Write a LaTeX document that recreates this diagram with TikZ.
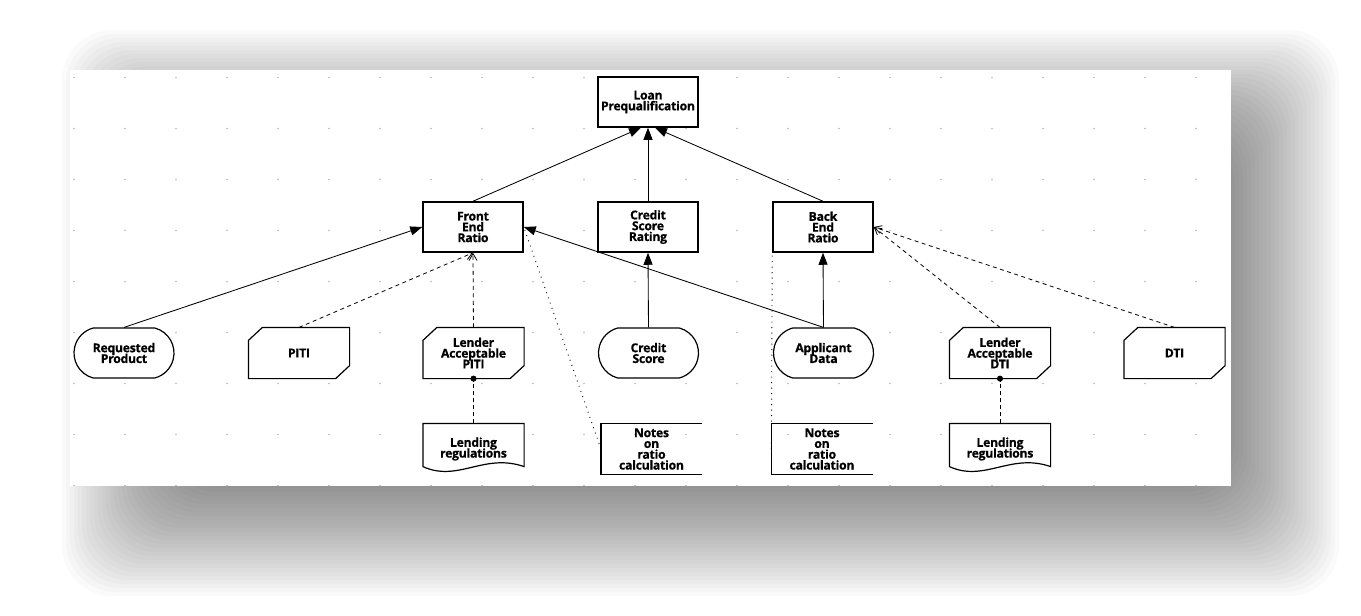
\documentclass[tikz,border=0pt]{standalone}
\usepackage{fontspec}
\newfontfamily\lblfont{Open Sans}[LetterSpace=-2,BoldFeatures={FakeBold=0.6}]
\usetikzlibrary{shapes.misc,arrows.meta,calc}
\pgfdeclarelayer{bg}
\pgfsetlayers{bg,main}
\definecolor{griddot}{gray}{0.72}
\begin{document}
\begin{tikzpicture}[x=1pt,y=-1pt,
  lbl/.style={align=center, inner sep=0pt,
    font={\lblfont\bfseries\fontsize{12.2}{10.8}\selectfont\lineskiplimit=-50pt\relax}},
  procbox/.style={lbl, rectangle, draw, line width=1.5pt, fill=white,
    minimum width=100pt, minimum height=50pt},
  stadium/.style={lbl, rounded rectangle, rounded rectangle arc length=150,
    draw, line width=1.2pt, fill=white, minimum width=100pt, minimum height=50pt},
  plainbox/.style={lbl, rectangle, outer sep=0.6pt,
    minimum width=100pt, minimum height=50pt},
  outline/.style={line width=1.2pt, line join=miter},
  flow/.style={line width=0.85pt, -{Triangle[length=12pt,width=9pt]}},
  dep/.style={line width=0.8pt, dash pattern=on 4pt off 3.5pt,
    -{Straight Barb[length=7pt,width=8pt]}},
  assoc/.style={line width=0.9pt, dash pattern=on 4pt off 3pt,
    -{Circle[length=6pt]}, shorten >=-3pt},
  noteline/.style={line width=0.9pt, dash pattern=on 0.9pt off 4.6pt}
]
\useasboundingbox (0,0) rectangle (1361,616);

\begin{pgfonlayer}{bg}
  % soft drop shadow behind the sheet
  \foreach \k in {0,...,29}{
    \pgfmathsetmacro\e{-60+4*\k}
    \fill[black, opacity=0.021, rounded corners=50pt]
      ({118-(\e)},{86-(\e)}) rectangle ({1283+(\e)},{540+(\e)});
  }
  % the sheet with its dot grid
  \fill[white] (70,70) rectangle (1231,486);
  \begin{scope}
    \clip (70,70) rectangle (1231,486);
    \foreach \i in {0,...,22}{
      \foreach \j in {0,...,8}{
        \fill[griddot] ({74+51*\i},{77.5+51*\j}) circle (0.9pt);
      }
    }
  \end{scope}
\end{pgfonlayer}

% decision nodes
\node[procbox] (lp)  at (648,102) {Loan\\Prequalification};
\node[procbox] (fer) at (473,227) {Front\\End\\Ratio};
\node[procbox] (csr) at (648,227) {Credit\\Score\\Rating};
\node[procbox] (ber) at (823,227) {Back\\End\\Ratio};

% input data
\node[stadium]  (rp)   at (124,353)   {Requested\\Product};
\node[stadium]  (cs)   at (648.5,353) {Credit\\Score};
\node[stadium]  (ad)   at (823.5,353) {Applicant\\Data};

% business knowledge models
\node[plainbox] (piti) at (299,353)    {PITI};
\node[plainbox] (lap)  at (473.5,353)  {Lender\\Acceptable\\PITI};
\node[plainbox] (lad)  at (1000,353)   {Lender\\Acceptable\\DTI};
\node[plainbox] (dti)  at (1174.5,353) {DTI};

% knowledge sources
\node[plainbox] (lr1) at (473.5,449) {Lending\\regulations};
\node[plainbox] (lr2) at (1000,449)  {Lending\\regulations};

% text annotations
\node[plainbox] (n1) at (651.5,449) {Notes\\on\\ratio\\calculation};
\node[plainbox] (n2) at (822,449)   {Notes\\on\\ratio\\calculation};

\begin{pgfonlayer}{bg}
  % cut-corner outlines
  \foreach \d in {piti,lap,lad,dti}{
    \filldraw[outline, fill=white]
      ([xshift=14pt]\d.north west) -- (\d.north east)
      -- ([yshift=13pt]\d.south east) -- ([xshift=-14pt]\d.south east)
      -- (\d.south west) -- ([yshift=-13pt]\d.north west) -- cycle;
  }
  % wavy-bottom documents
  \foreach \d in {lr1,lr2}{
    \filldraw[outline, fill=white]
      (\d.north west) -- (\d.north east) -- ([yshift=8pt]\d.south east)
      .. controls ([xshift=-40pt,yshift=22pt]\d.south east)
      and ([xshift=35pt,yshift=-8pt]\d.south west) .. ([yshift=8pt]\d.south west)
      -- cycle;
  }
  % open brackets of the annotations
  \foreach \d in {n1,n2}{
    \draw[outline] (\d.north east) -- (\d.north west) -- (\d.south west) -- (\d.south east);
  }
\end{pgfonlayer}

% information requirements
\draw[flow] (fer.north) -- ([xshift=-7pt]lp.south);
\draw[flow] (csr.north) -- (lp.south);
\draw[flow] (ber.north) -- ([xshift=7pt]lp.south);
\draw[flow] (rp.north) -- (fer.west);
\draw[flow] (ad.north) -- (fer.east);
\draw[flow] (ad.north) -- (ber.south);
\draw[flow] (cs.north) -- (csr.south);

% knowledge requirements
\draw[dep] (piti.north) -- (fer.south);
\draw[dep] (lap.north) -- (fer.south);
\draw[dep] (lad.north) -- (ber.east);
\draw[dep] (dti.north) -- (ber.east);

% authority requirements
\draw[assoc] (lr1.north) -- (lap.south);
\draw[assoc] (lr2.north) -- (lad.south);

% annotation links
\draw[noteline] (n1.west) -- (fer.east);
\draw[noteline] (n2.west) -- (ber.south west);
\end{tikzpicture}
\end{document}
